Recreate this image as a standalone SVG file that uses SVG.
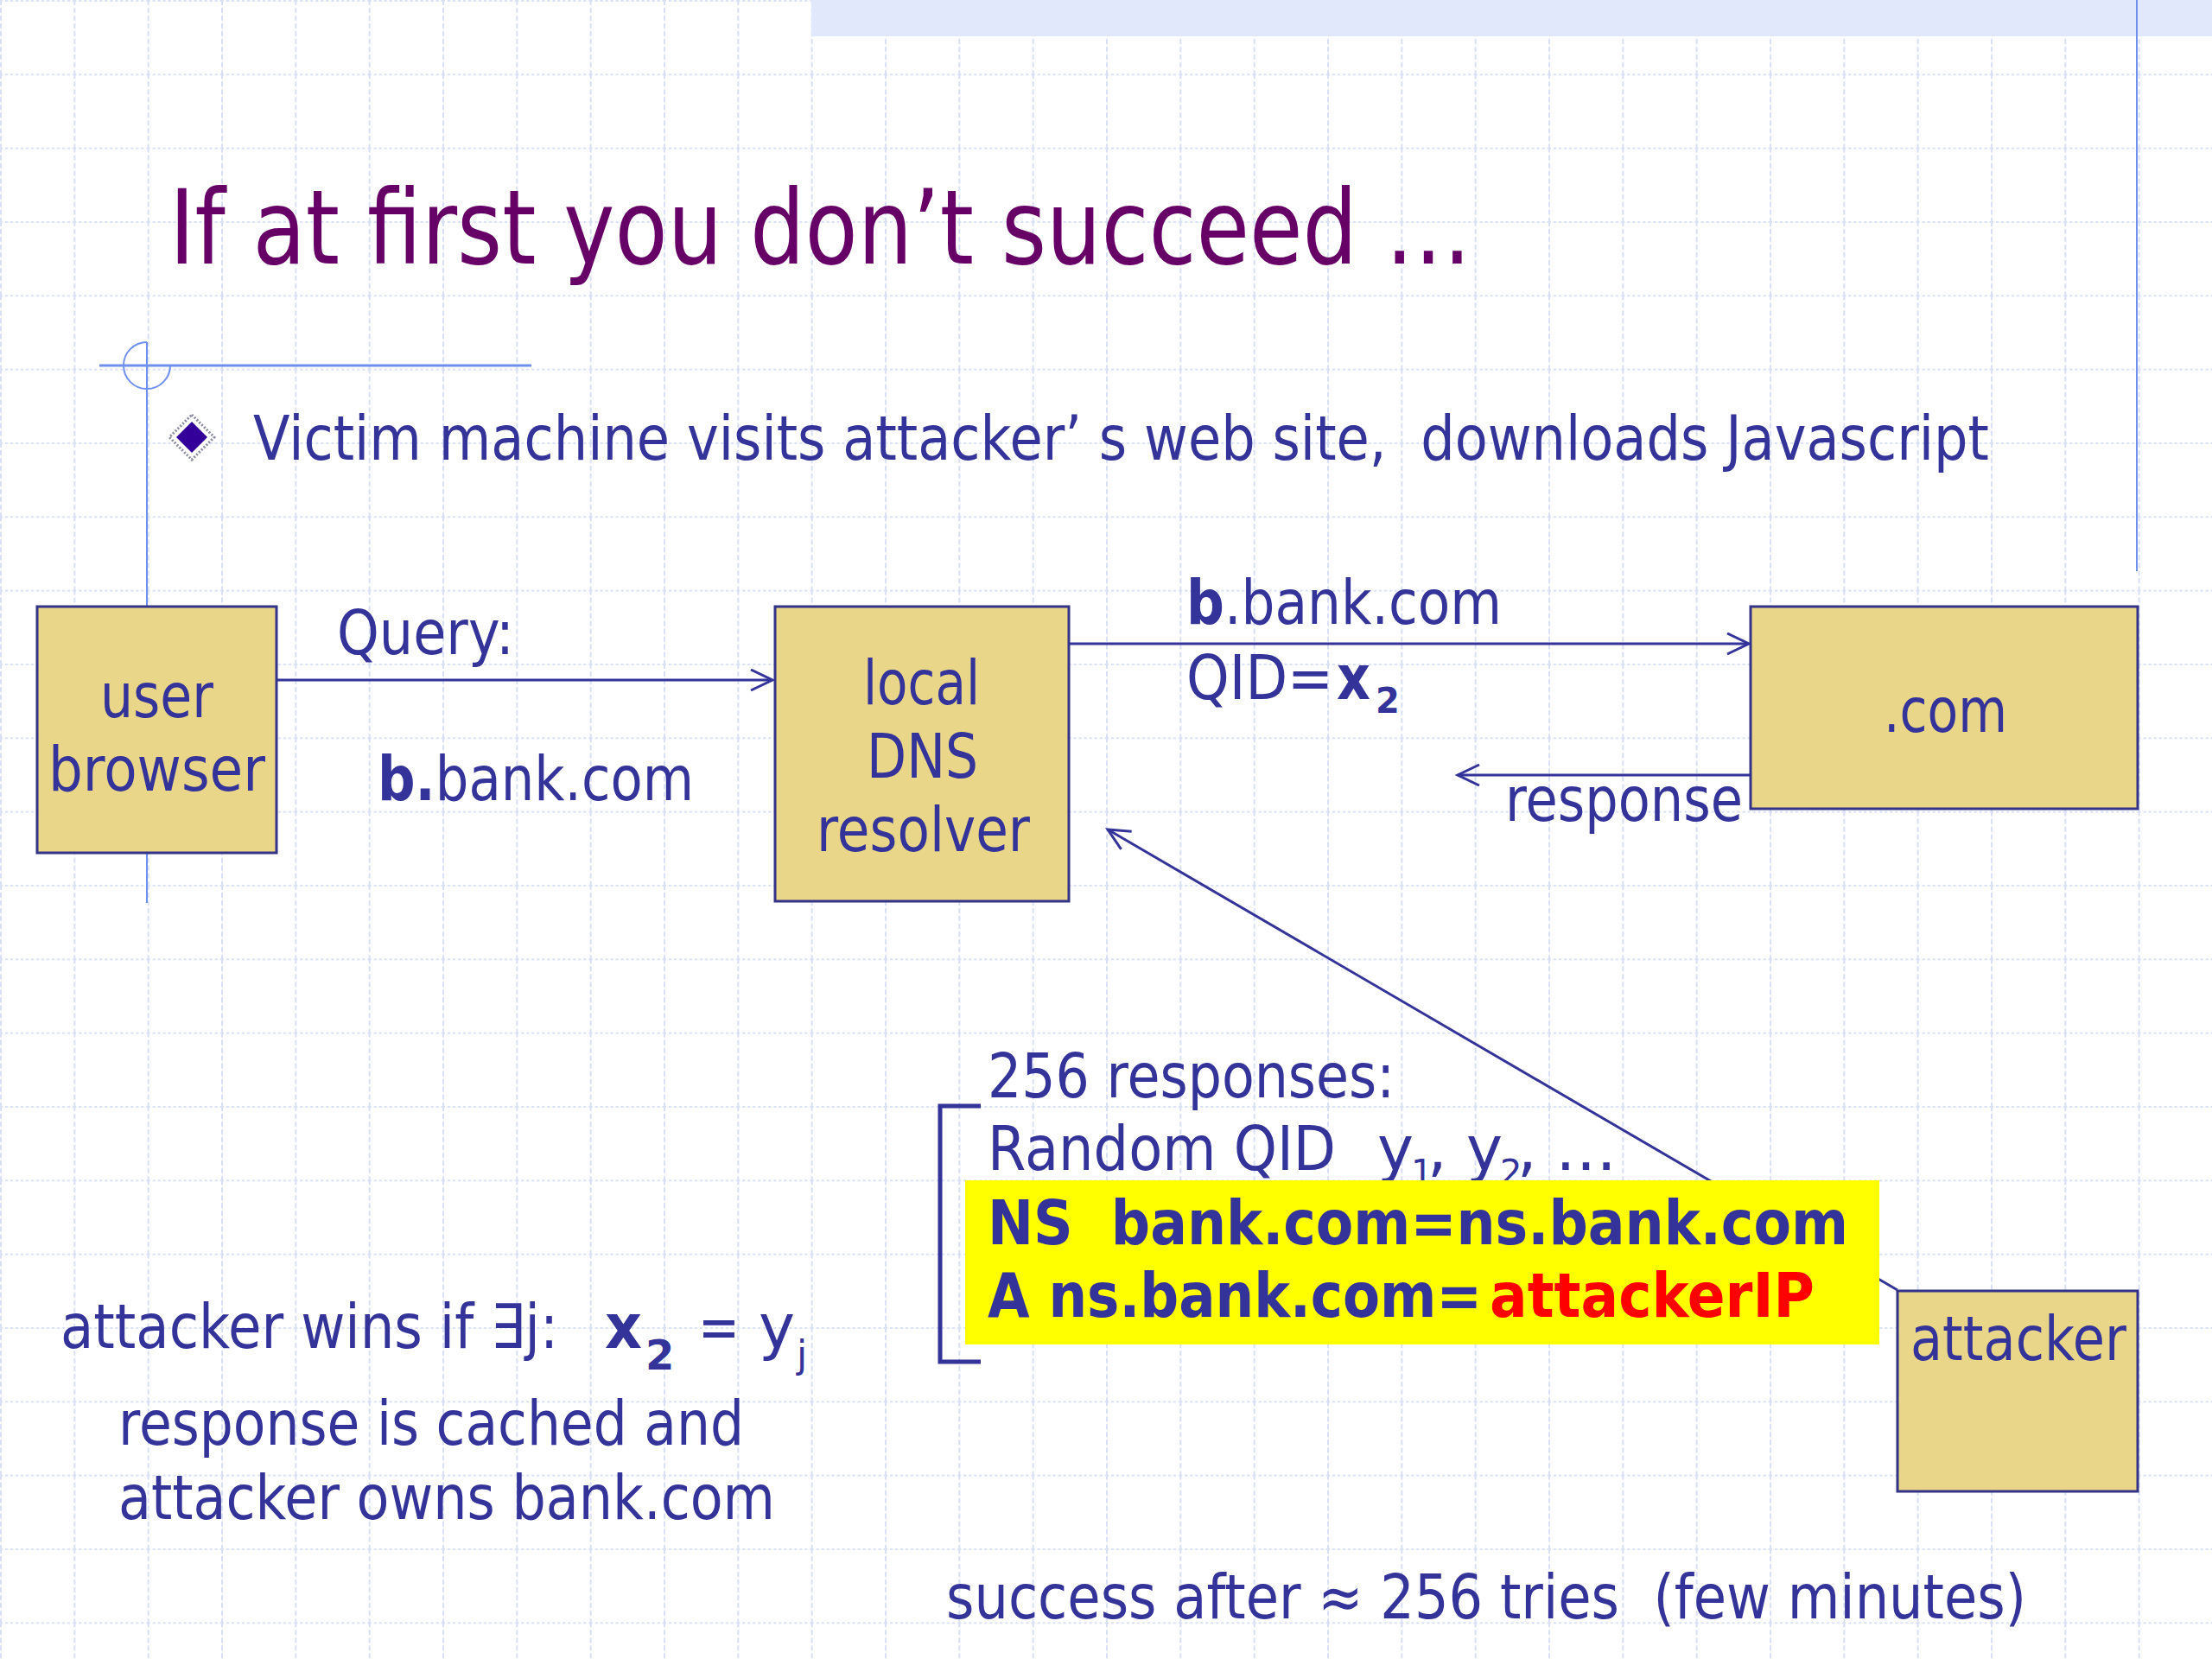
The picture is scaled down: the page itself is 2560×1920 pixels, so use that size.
<svg xmlns="http://www.w3.org/2000/svg" width="2560" height="1920" viewBox="0 0 2560 1920">
<style>
text{font-family:"DejaVu Sans","Liberation Sans",sans-serif;fill:#333399;white-space:pre}
.t{font-size:71px}
.b{font-weight:bold}
.box{fill:#e9d688;stroke:#333388;stroke-width:3}
.con{stroke:#333399;stroke-width:3;fill:none}
.deco{stroke:#7090ee;fill:none}
</style>
<defs>
<pattern id="grid" width="85.333" height="85.333" patternUnits="userSpaceOnUse">
<line x1="0" y1="1" x2="85.333" y2="1" stroke="#d9e0f6" stroke-width="2" stroke-dasharray="3,3"/>
<line x1="1" y1="0" x2="1" y2="85.333" stroke="#d9e0f6" stroke-width="2" stroke-dasharray="6,3"/>
</pattern>
<marker id="arr" markerUnits="userSpaceOnUse" markerWidth="32" markerHeight="30" refX="27" refY="13" orient="auto">
<path d="M2,1 L27,13 L2,25" fill="none" stroke="#333399" stroke-width="3"/>
</marker>
</defs>
<rect width="2560" height="1920" fill="#ffffff"/>
<rect width="2560" height="1920" fill="url(#grid)"/>
<rect x="939" y="0" width="1621" height="42" fill="#e2e8fb"/>
<line class="deco" x1="2473" y1="0" x2="2473" y2="661" stroke-width="2"/>
<g id="decoration">
<line class="deco" x1="115" y1="423" x2="615" y2="423" stroke-width="3"/>
<line class="deco" x1="170" y1="396" x2="170" y2="1045" stroke-width="2"/>
<path class="deco" d="M170,396 A27,27 0 1,0 197,423" stroke-width="2"/>
</g>
<text x="196" y="305" font-size="120" style="fill:#660066" textLength="1507" lengthAdjust="spacingAndGlyphs">If at first you don’t succeed …</text>
<g id="bullet">
<path d="M222,480 L248,506 L222,532 L196,506 Z" fill="#ffffff" stroke="#8a8aa0" stroke-width="3" stroke-dasharray="2,2"/>
<path d="M222,488 L240,506 L222,524 L204,506 Z" fill="#330099"/>
<text class="t" x="293" y="532" textLength="2009" lengthAdjust="spacingAndGlyphs">Victim machine visits attacker’ s web site,  downloads Javascript</text>
</g>
<g id="connectors">
<line class="con" x1="320" y1="787" x2="894" y2="787" marker-end="url(#arr)"/>
<line class="con" x1="1237" y1="745" x2="2024" y2="745" marker-end="url(#arr)"/>
<line class="con" x1="2026" y1="897" x2="1687" y2="897" marker-end="url(#arr)"/>
<line class="con" x1="2196" y1="1493" x2="1282" y2="960" stroke-width="2.5" marker-end="url(#arr)"/>
</g>
<g id="labels">
<text class="t" x="390" y="757" textLength="205" lengthAdjust="spacingAndGlyphs">Query:</text>
<text class="t" x="437" y="926" textLength="366" lengthAdjust="spacingAndGlyphs"><tspan class="b">b.</tspan>bank.com</text>
<text class="t" x="1373" y="722" textLength="365" lengthAdjust="spacingAndGlyphs"><tspan class="b">b</tspan>.bank.com</text>
<text class="t" x="1373" y="809" textLength="170" lengthAdjust="spacingAndGlyphs">QID=</text>
<text class="t b" x="1547" y="809" textLength="39" lengthAdjust="spacingAndGlyphs">x</text>
<text class="b" x="1592" y="825" font-size="40">2</text>
<text class="t" x="1742" y="950" textLength="275" lengthAdjust="spacingAndGlyphs">response</text>
</g>
<g id="user-browser">
<rect class="box" x="43" y="702" width="277" height="285"/>
<text class="t" x="116" y="830" textLength="131" lengthAdjust="spacingAndGlyphs">user</text>
<text class="t" x="56" y="915" textLength="251" lengthAdjust="spacingAndGlyphs">browser</text>
</g>
<g id="local-dns-resolver">
<rect class="box" x="897" y="702" width="340" height="341"/>
<text class="t" x="999" y="815" textLength="135" lengthAdjust="spacingAndGlyphs">local</text>
<text class="t" x="1003" y="900" textLength="129" lengthAdjust="spacingAndGlyphs">DNS</text>
<text class="t" x="945" y="985" textLength="247" lengthAdjust="spacingAndGlyphs">resolver</text>
</g>
<g id="dot-com">
<rect class="box" x="2026" y="702" width="448" height="234"/>
<text class="t" x="2180" y="847" textLength="143" lengthAdjust="spacingAndGlyphs">.com</text>
</g>
<g id="attacker">
<rect class="box" x="2196" y="1494" width="278" height="232"/>
<text class="t" x="2211" y="1574" textLength="250" lengthAdjust="spacingAndGlyphs">attacker</text>
</g>
<g id="responses">
<path d="M1135,1280 L1088,1280 L1088,1576 L1135,1576" fill="none" stroke="#333399" stroke-width="5"/>
<text class="t" x="1143" y="1270" textLength="471" lengthAdjust="spacingAndGlyphs">256 responses:</text>
<text class="t" x="1143" y="1354" textLength="403" lengthAdjust="spacingAndGlyphs">Random QID</text>
<text class="t" x="1594" y="1354">y</text>
<text x="1633" y="1371" font-size="40">1</text>
<text class="t" x="1652" y="1354">,</text>
<text class="t" x="1697" y="1354">y</text>
<text x="1736" y="1371" font-size="40">2</text>
<text class="t" x="1756" y="1354">,</text>
<text class="t" x="1800" y="1354">…</text>
<rect x="1117" y="1366" width="1058" height="190" fill="#ffff00"/>
<text class="t b" x="1143" y="1440" textLength="996" lengthAdjust="spacingAndGlyphs">NS  bank.com=ns.bank.com</text>
<text class="t b" x="1143" y="1524" textLength="572" lengthAdjust="spacingAndGlyphs">A ns.bank.com=</text>
<text class="t b" x="1724" y="1524" textLength="376" lengthAdjust="spacingAndGlyphs" style="fill:#ff0000">attackerIP</text>
</g>
<g id="condition">
<text class="t" x="70" y="1560" textLength="576" lengthAdjust="spacingAndGlyphs">attacker wins if ∃j:</text>
<text class="t b" x="700" y="1560" textLength="43" lengthAdjust="spacingAndGlyphs">x</text>
<text class="b" x="747" y="1585" font-size="48">2</text>
<text class="t" x="808" y="1560" textLength="48" lengthAdjust="spacingAndGlyphs">=</text>
<text class="t" x="878" y="1560">y</text>
<text x="922" y="1583" font-size="44">j</text>
<text class="t" x="137" y="1672" textLength="724" lengthAdjust="spacingAndGlyphs">response is cached and</text>
<text class="t" x="137" y="1758" textLength="760" lengthAdjust="spacingAndGlyphs">attacker owns bank.com</text>
</g>
<text class="t" x="1095" y="1873" textLength="1250" lengthAdjust="spacingAndGlyphs">success after ≈ 256 tries  (few minutes)</text>
</svg>
